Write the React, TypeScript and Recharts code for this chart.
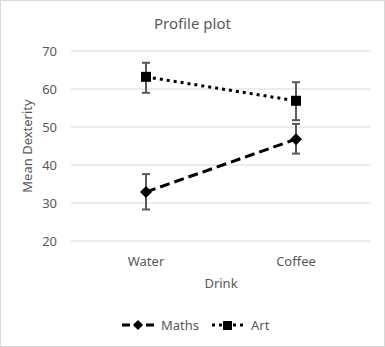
import { CartesianGrid, ErrorBar, Legend, Line, LineChart, XAxis, YAxis } from "recharts";

const drinks = ["Water", "Coffee"];
const mathsMeans = [32.9, 46.8];
const mathsLow = [28.3, 43.0];
const mathsHigh = [37.6, 50.8];
const artMeans = [63.2, 56.9];
const artLow = [59.0, 51.8];
const artHigh = [66.9, 61.8];
const yTicks = [20, 30, 40, 50, 60, 70];

const data = drinks.map((drink, i) => ({
  drink,
  maths: mathsMeans[i],
  mathsErr: [mathsMeans[i] - mathsLow[i], mathsHigh[i] - mathsMeans[i]],
  art: artMeans[i],
  artErr: [artMeans[i] - artLow[i], artHigh[i] - artMeans[i]],
}));

const FONT = "'Noto Sans', sans-serif";
const GREY = "#595959";

function Diamond(props: any) {
  const { cx, cy } = props;
  if (cx == null || cy == null) return null;
  return <path d={`M${cx},${cy - 6} L${cx + 6},${cy} L${cx},${cy + 6} L${cx - 6},${cy} Z`} fill="#000" />;
}

function Square(props: any) {
  const { cx, cy } = props;
  if (cx == null || cy == null) return null;
  return <rect x={cx - 5} y={cy - 5} width={10} height={10} fill="#000" />;
}

function LegendContent() {
  return (
    <svg width={385} height={20} style={{ overflow: "visible" }}>
      <line x1={121} x2={153} y1={10} y2={10} stroke="#000" strokeWidth={3} strokeDasharray="8 4" />
      <path d="M137,5 L142,10 L137,15 L132,10 Z" fill="#000" />
      <text x={160} y={15} fontSize={13} fill={GREY} fontFamily={FONT}>Maths</text>
      <line x1={211} x2={243} y1={10} y2={10} stroke="#000" strokeWidth={3} strokeDasharray="3 4" />
      <rect x={222} y={6} width={9} height={9} fill="#000" />
      <text x={250} y={15} fontSize={13} fill={GREY} fontFamily={FONT}>Art</text>
    </svg>
  );
}

export default function App() {
  return (
    <div
      style={{
        position: "absolute",
        left: 0,
        top: 0,
        width: 383,
        height: 345,
        border: "1px solid #d9d9d9",
        background: "#fff",
        fontFamily: FONT,
      }}
    >
      <div
        style={{
          position: "absolute",
          top: 12,
          width: "100%",
          textAlign: "center",
          fontSize: 15,
          color: GREY,
        }}
      >
        Profile plot
      </div>
      <LineChart width={383} height={345} data={data} margin={{ top: 50, right: 13, left: 0, bottom: 1 }}>
        <CartesianGrid vertical={false} stroke="#d9d9d9" />
        <XAxis
          dataKey="drink"
          padding={{ left: 75, right: 75 }}
          axisLine={false}
          tickLine={false}
          tick={{ fill: GREY, fontSize: 13, fontFamily: FONT }}
          tickMargin={10}
          height={74}
          label={{ value: "Drink", position: "insideBottom", offset: 27, fill: GREY, fontSize: 13, fontFamily: FONT }}
        />
        <YAxis
          domain={[20, 70]}
          ticks={yTicks}
          width={70}
          axisLine={false}
          tickLine={false}
          tick={{ fill: GREY, fontSize: 13, fontFamily: FONT }}
          tickMargin={8}
          label={{
            value: "Mean Dexterity",
            angle: -90,
            position: "insideLeft",
            offset: 26,
            style: { textAnchor: "middle" },
            fill: GREY,
            fontSize: 13,
            fontFamily: FONT,
          }}
        />
        <Legend verticalAlign="bottom" height={30} content={<LegendContent />} />
        <Line
          dataKey="maths"
          stroke="#000"
          strokeWidth={3}
          strokeDasharray="10 5"
          dot={<Diamond />}
          activeDot={false}
          isAnimationActive={false}
        >
          <ErrorBar dataKey="mathsErr" direction="y" width={4} stroke={GREY} strokeWidth={2} />
        </Line>
        <Line
          dataKey="art"
          stroke="#000"
          strokeWidth={3}
          strokeDasharray="3 4"
          dot={<Square />}
          activeDot={false}
          isAnimationActive={false}
        >
          <ErrorBar dataKey="artErr" direction="y" width={4} stroke={GREY} strokeWidth={2} />
        </Line>
      </LineChart>
    </div>
  );
}
